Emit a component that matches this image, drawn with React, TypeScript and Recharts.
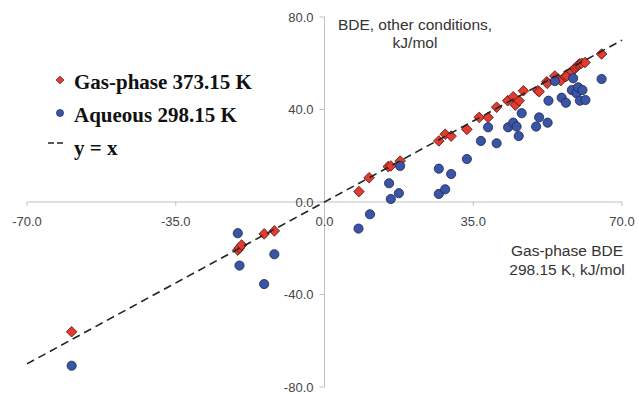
import {
    ScatterChart,
    Scatter,
    XAxis,
    YAxis,
    ReferenceLine,
    ReferenceDot,
    Customized
} from 'recharts';

// Gas-phase 373.15 K (red diamonds)
const gasX = [-59.5, -20.4, -20.0, -19.5, -14.2, -11.8, 8.1, 10.5, 15.0, 15.6, 17.8, 26.9, 28.4, 29.8, 33.5, 36.4, 38.5, 40.5, 43.1, 44.4, 44.9, 45.8, 46.8, 50.2, 50.5, 52.3, 52.4, 54.2, 55.6, 56.6, 57.0, 58.2, 58.9, 59.3, 59.7, 60.0, 60.5, 61.3, 65.2];
const gasY = [-56.1, -20.8, -19.8, -18.6, -13.8, -12.5, 4.5, 10.5, 15.3, 15.6, 17.7, 26.4, 29.3, 28.5, 31.4, 36.6, 36.6, 41.0, 43.8, 45.5, 41.9, 43.8, 48.1, 48.1, 47.7, 52.0, 51.3, 54.5, 52.5, 54.2, 54.5, 56.4, 57.8, 58.5, 59.2, 59.7, 60.0, 60.3, 64.0];

// Aqueous 298.15 K (blue circles)
const aqX = [-59.5, -20.4, -20.0, -11.8, -14.2, 8.0, 10.7, 15.6, 17.5, 15.2, 17.8, 26.9, 28.4, 26.9, 29.8, 33.5, 36.8, 38.5, 40.5, 43.2, 44.4, 45.2, 45.7, 46.4, 49.8, 50.5, 52.5, 52.7, 54.2, 55.8, 56.8, 58.2, 58.5, 59.3, 59.7, 60.7, 60.1, 61.4, 65.2];
const aqY = [-70.8, -13.5, -27.5, -22.6, -35.5, -11.5, -5.3, 1.3, 3.8, 8.1, 15.6, 3.5, 5.5, 14.4, 12.1, 18.6, 26.4, 32.3, 25.4, 32.3, 34.3, 32.6, 28.5, 38.4, 32.6, 36.6, 34.3, 43.8, 52.3, 45.1, 42.9, 48.4, 53.5, 47.0, 49.6, 48.4, 43.8, 44.1, 53.2];

// y = x reference
const diagX = [-70, 70];

const xTicks = [-70, -35, 0, 35, 70];
const yTicks = [-80, -40, 0, 40, 80];

const gasData = gasX.map((x, i) => ({ x, y: gasY[i] }));
const aqData = aqX.map((x, i) => ({ x, y: aqY[i] }));
const diagData = diagX.map(v => ({ x: v, y: v }));

const RED = '#e53a2f';
const BLUE = '#3a55a6';
const AXIS = '#bfbfbf';
const LABEL_FONT = '"Liberation Sans", Arial, sans-serif';
const LEGEND_FONT = '"Liberation Serif", "Times New Roman", serif';

const Diamond = (props: any) => {
    const { cx, cy } = props;
    const s = 5.3;
    return (
        <path
            d={`M${cx},${cy - s}L${cx + s},${cy}L${cx},${cy + s}L${cx - s},${cy}Z`}
            fill={RED}
            stroke="#4a1410"
            strokeWidth={0.8}
        />
    );
};

const Circle = (props: any) => {
    const { cx, cy } = props;
    return <circle cx={cx} cy={cy} r={4.6} fill={BLUE} stroke="#1b2550" strokeWidth={0.8} />;
};

const NoShape = () => <g />;

function LegendBox() {
    const row = { display: 'flex', alignItems: 'center', height: 33 } as const;
    const text = { fontFamily: LEGEND_FONT, fontWeight: 'bold', fontSize: 21, color: '#111' } as const;
    return (
        <div style={{ position: 'absolute', left: 48, top: 66 }}>
            <div style={row}>
                <svg width={26} height={20}>
                    <path d="M12,3L16,7L12,11L8,7Z" fill={RED} stroke="#4a1410" strokeWidth={0.6} />
                </svg>
                <span style={text}>Gas-phase 373.15 K</span>
            </div>
            <div style={row}>
                <svg width={26} height={20}>
                    <circle cx={12} cy={7} r={3.6} fill={BLUE} stroke="#1b2550" strokeWidth={0.6} />
                </svg>
                <span style={text}>Aqueous 298.15 K</span>
            </div>
            <div style={row}>
                <svg width={26} height={20}>
                    <line x1={0} y1={4} x2={16} y2={4} stroke="#222" strokeWidth={1.5} strokeDasharray="6 3" />
                </svg>
                <span style={text}>y = x</span>
            </div>
        </div>
    );
}

function AxisTitles() {
    const style = { fontFamily: LABEL_FONT, fontSize: 15.5, fill: '#333' };
    return (
        <g>
            <text x={415} y={30} textAnchor="middle" {...style}>BDE, other conditions,</text>
            <text x={415} y={48} textAnchor="middle" {...style}>kJ/mol</text>
            <text x={567} y={256} textAnchor="middle" {...style}>Gas-phase BDE</text>
            <text x={567} y={275} textAnchor="middle" {...style}>298.15 K, kJ/mol</text>
        </g>
    );
}

export default function App() {
    const tickLabel = { fill: '#444', fontSize: 13, fontFamily: LABEL_FONT };
    return (
        <div style={{ position: 'absolute', left: 0, top: 0, width: 639, height: 394, background: '#fff' }}>
            <ScatterChart width={639} height={394} margin={{ top: 17, right: 17, bottom: 7, left: 27 }}>
                <XAxis type="number" dataKey="x" domain={[-70, 70]} ticks={xTicks} hide />
                <YAxis type="number" dataKey="y" domain={[-80, 80]} ticks={yTicks} hide />

                <ReferenceLine y={0} stroke={AXIS} strokeWidth={1} />
                <ReferenceLine x={0} stroke={AXIS} strokeWidth={1} />
                {xTicks.map(t => (
                    <ReferenceLine key={'xt' + t} segment={[{ x: t, y: 0 }, { x: t, y: -1.7 }]} stroke={AXIS} />
                ))}
                {yTicks.map(t => (
                    <ReferenceLine key={'yt' + t} segment={[{ x: 0, y: t }, { x: -1.2, y: t }]} stroke={AXIS} />
                ))}
                {xTicks.map(t => (
                    <ReferenceDot
                        key={'xl' + t}
                        x={t}
                        y={0}
                        r={0}
                        fill="none"
                        stroke="none"
                        label={{ value: t.toFixed(1), position: 'bottom', offset: 15, ...tickLabel }}
                    />
                ))}
                {yTicks.map(t => (
                    <ReferenceDot
                        key={'yl' + t}
                        x={0}
                        y={t}
                        r={0}
                        fill="none"
                        stroke="none"
                        label={{ value: t.toFixed(1), position: 'left', offset: 11, ...tickLabel }}
                    />
                ))}

                <Scatter name="Gas-phase 373.15 K" data={gasData} shape={Diamond} isAnimationActive={false} />
                <Scatter name="Aqueous 298.15 K" data={aqData} shape={Circle} isAnimationActive={false} />
                <Scatter
                    name="y = x"
                    data={diagData}
                    shape={NoShape}
                    line={{ stroke: '#222', strokeWidth: 1.6, strokeDasharray: '8 5' }}
                    lineType="joint"
                    isAnimationActive={false}
                />

                <Customized component={AxisTitles} />
            </ScatterChart>
            <LegendBox />
        </div>
    );
}
